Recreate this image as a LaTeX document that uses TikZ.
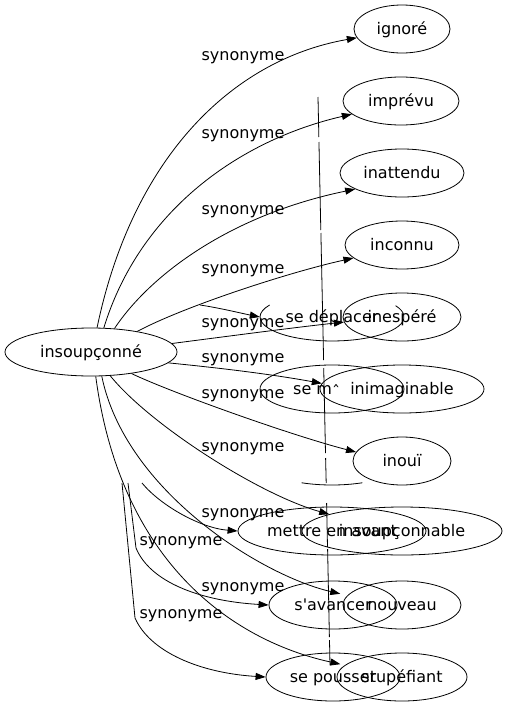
\documentclass[tikz,border=0pt]{standalone}
\usepackage{fontspec}
\setmainfont{DejaVu Sans}
\usetikzlibrary{shapes.geometric,arrows.meta}
\begin{document}
\begin{tikzpicture}[x=1pt,y=-1pt,
  every node/.style={font=\fontsize{16}{19}\selectfont, text height=12.5pt, text depth=2.5pt, inner sep=0pt},
  word/.style={ellipse, draw, line width=0.8pt, minimum height=48pt},
  ghost/.style={ellipse, minimum height=48pt},
  lab/.style={},
  syn/.style={draw, line width=0.8pt, -{Triangle[length=10pt,width=7pt]}},
  stray/.style={draw, line width=0.8pt}]
\fill[white] (0,0) rectangle (508,707);
\useasboundingbox (0,0) rectangle (508,707);

% nodes
\node[word, minimum width=172pt] (main) at (91,352) {insoupçonné};
\node[word, minimum width=96pt] (ignore) at (402,29) {ignoré};
\node[word, minimum width=116pt] (imprevu) at (401,101) {imprévu};
\node[word, minimum width=124pt] (inattendu) at (402,173) {inattendu};
\node[word, minimum width=114pt] (inconnu) at (402,245) {inconnu};
\node[word, minimum width=118pt] (inespere) at (402,317) {inespéré};
\node[word, minimum width=164pt] (inimag) at (402,389) {inimaginable};
\node[word, minimum width=98pt] (inoui) at (402,461) {inouï};
\node[word, minimum width=188pt] (mettre) at (332,531) {mettre en avant};
\node[word, minimum width=200pt] (insoupc) at (402,531) {insoupçonnable};
\node[word, minimum width=128pt] (savancer) at (333,605) {s\textquotesingle avancer};
\node[word, minimum width=118pt] (nouveau) at (402,605) {nouveau};
\node[word, minimum width=134pt] (sepousser) at (333,677) {se pousser};
\node[word, minimum width=130pt] (stupefiant) at (402,677) {stupéfiant};
\node[word, minimum width=144pt] (sem) at (332,389) {};
\node[anchor=west] (semtext) at (293,389) {se m\raisebox{-3pt}{ˆ}};
\node[ghost, minimum width=144pt] (sedepl) at (332,317) {se déplacer};

% partial ellipses
\draw[stray] (395.6,305.7) arc[start angle=-28, end angle=210, x radius=72, y radius=24];
\draw[stray] (362.4,482.75) arc[start angle=65, end angle=115, x radius=72, y radius=24];

% vertical stray line
\draw[stray] (318,97) -- (318.85,137);
\draw[stray] (318.95,142) -- (320.8,230);
\draw[stray] (320.9,233) -- (323.6,360);
\draw[stray] (323.7,368) -- (325.5,453);
\draw[stray] (325.6,458) -- (326.2,483);
\draw[stray] (326.6,503) -- (327.5,547);
\draw[stray] (327.6,549) -- (329.4,637);
\draw[stray] (329.5,640) -- (330,665);

% edges from main
\draw[syn] (main.76) .. controls (132,160) and (230,60) .. (ignore.191);
\draw[syn] (main.62) .. controls (140,210) and (240,140) .. (imprevu.195);
\draw[syn] (main.45) .. controls (150,275) and (230,215) .. (inattendu.199);
\draw[syn] (main.24) .. controls (185,306) and (290,272) .. (inconnu.195);
\draw[syn] (main.6) .. controls (230,336) and (290,328) .. (inespere.185);
\draw[syn] (main.-8) .. controls (220,368) and (270,374) .. (inimag.176);
\draw[syn] (main.-28) .. controls (170,392) and (290,435) .. (inoui.169);
\draw[syn] (main.-51) .. controls (150,425) and (260,495) .. (insoupc.167);
\draw[syn] (main.-66) .. controls (125,490) and (260,575) .. ([xshift=-9pt]nouveau.168);
\draw[syn] (main.-79) .. controls (120,560) and (230,640) .. ([xshift=-6pt]stupefiant.167);

% stray edges
\coordinate (s1) at (200,305);
\coordinate (s2) at (142,483);
\coordinate (s3) at (128,483);
\coordinate (s4) at (122,483);
\draw[syn] (s1) .. controls (220,308) and (240,313) .. (sedepl.180);
\draw[syn] (s2) .. controls (160,505) and (200,528) .. (mettre.west);
\draw[syn] (s3) -- (136,548) .. controls (150,582) and (200,601) .. (savancer.west);
\draw[syn] (s4) -- (135,618) .. controls (150,652) and (200,673) .. (sepousser.west);

% labels
\node (l1) at (243,55) {synonyme};
\node (l2) at (243,133) {synonyme};
\node (l3) at (243,209) {synonyme};
\node (l4) at (243,268) {synonyme};
\node (l5) at (243,322) {synonyme};
\node (l6) at (243,357) {synonyme};
\node (l7) at (243,393) {synonyme};
\node (l8) at (243,446) {synonyme};
\node (l9) at (243,512) {synonyme};
\node (l10) at (181,540) {synonyme};
\node (l11) at (243,586) {synonyme};
\node (l12) at (181,613) {synonyme};
\end{tikzpicture}
\end{document}
